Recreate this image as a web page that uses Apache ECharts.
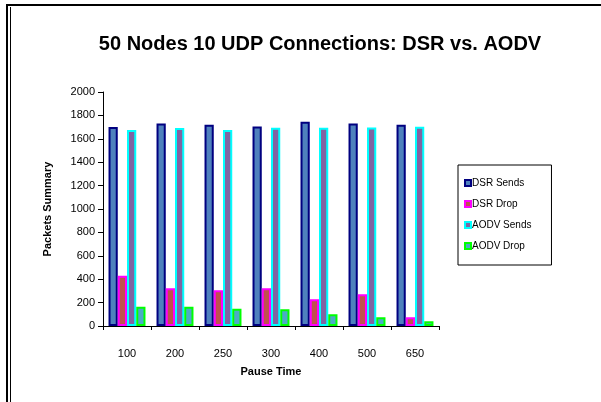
<!DOCTYPE html>
<html>
<head>
<meta charset="utf-8">
<script src="https://cdn.jsdelivr.net/npm/echarts@6/dist/echarts.min.js"></script>
<style>
  html, body { margin: 0; padding: 0; background: #fff; }
  #chart { width: 601px; height: 402px; }
</style>
</head>
<body>
<div id="chart"></div>
<script>
var pauseTimes = ['100', '200', '250', '300', '400', '500', '650'];
var dsrSends = [1700, 1730, 1720, 1705, 1745, 1730, 1720];
var dsrDrop = [430, 322, 305, 322, 228, 271, 74];
var aodvSends = [1675, 1692, 1676, 1695, 1695, 1697, 1702];
var aodvDrop = [165, 165, 148, 143, 100, 74, 40];

var font = 'Liberation Sans, Arial, sans-serif';

function barSeries(name, data, fill, border) {
    return {
        name: name,
        type: 'bar',
        data: data,
        barGap: 0,
        barCategoryGap: '23%',
        itemStyle: { color: fill, borderColor: border, borderWidth: 2 }
    };
}

var chart = echarts.init(document.getElementById('chart'), null, { renderer: 'canvas' });
chart.setOption({
    animation: false,
    backgroundColor: '#fff',
    title: {
        text: '50 Nodes 10 UDP Connections: DSR vs. AODV',
        left: 315,
        top: 29,
        textAlign: 'center',
        textStyle: { fontFamily: font, fontSize: 20, fontWeight: 'bold', color: '#000' }
    },
    legend: {
        orient: 'vertical',
        left: 458,
        top: 165,
        padding: [13, 20, 14, 6],
        borderColor: '#000',
        borderWidth: 1,
        itemWidth: 6,
        itemHeight: 6,
        itemGap: 11,
        icon: 'rect',
        textStyle: { fontFamily: font, fontSize: 10, color: '#000', padding: [0, 0, 0, -4] },
        data: ['DSR Sends', 'DSR Drop', 'AODV Sends', 'AODV Drop']
    },
    grid: { left: 103, right: 162, top: 92, bottom: 76 },
    xAxis: {
        type: 'category',
        data: pauseTimes,
        name: 'Pause Time',
        nameLocation: 'middle',
        nameGap: 40,
        nameTextStyle: { fontFamily: font, fontSize: 11, fontWeight: 'bold', color: '#000' },
        axisLine: { lineStyle: { color: '#000', width: 1 } },
        axisTick: { show: true, length: 4, lineStyle: { color: '#000' } },
        axisLabel: { fontFamily: font, fontSize: 11, color: '#000', margin: 22 }
    },
    yAxis: {
        type: 'value',
        min: 0,
        max: 2000,
        interval: 200,
        name: 'Packets Summary',
        nameLocation: 'middle',
        nameGap: 50,
        nameTextStyle: { fontFamily: font, fontSize: 11, fontWeight: 'bold', color: '#000' },
        splitLine: { show: false },
        axisLine: { show: true, lineStyle: { color: '#000', width: 1 } },
        axisTick: { show: true, length: 5, lineStyle: { color: '#000' } },
        axisLabel: {
            fontFamily: font, fontSize: 11, color: '#000', margin: 8,
            formatter: function (v) { return String(v); }
        }
    },
    series: [
        barSeries('DSR Sends', dsrSends, '#4F81BD', '#000080'),
        barSeries('DSR Drop', dsrDrop, '#C0504D', '#FF00FF'),
        barSeries('AODV Sends', aodvSends, '#8064A2', '#00FFFF'),
        barSeries('AODV Drop', aodvDrop, '#4BACC6', '#00FF00')
    ],
    graphic: [
        { type: 'line', shape: { x1: 6, y1: 5, x2: 601, y2: 5 }, style: { stroke: '#000', lineWidth: 2 } },
        { type: 'line', shape: { x1: 7, y1: 4, x2: 7, y2: 402 }, style: { stroke: '#000', lineWidth: 2 } },
        { type: 'line', shape: { x1: 10.5, y1: 7, x2: 10.5, y2: 402 }, style: { stroke: '#000', lineWidth: 1 } }
    ]
});
</script>
</body>
</html>
